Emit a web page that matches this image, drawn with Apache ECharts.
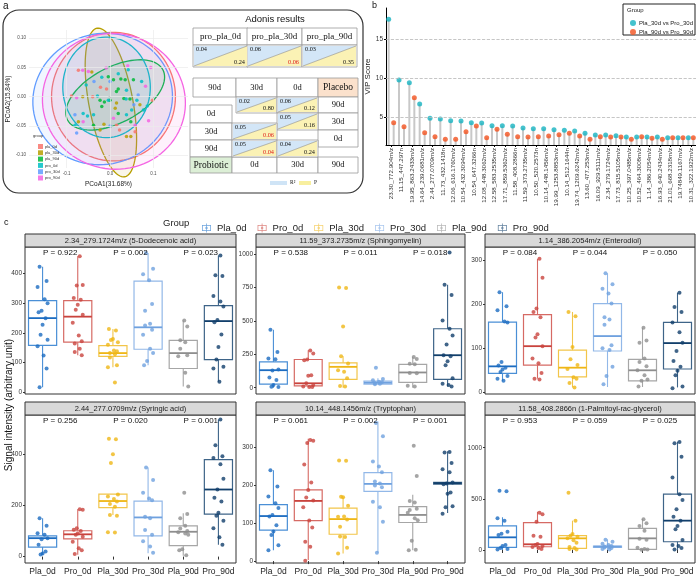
<!DOCTYPE html>
<html>
<head>
<meta charset="utf-8">
<script src="https://cdn.jsdelivr.net/npm/echarts@6/dist/echarts.min.js"></script>
<style>
  html, body { margin: 0; padding: 0; background: #fff; }
  #main { width: 696px; height: 579px; }
</style>
</head>
<body>
<div id="main"></div>
<script>
// ---------- panel a : PCoA ----------
const pcoaGroups = ['pla_0d', 'pla_30d', 'pla_90d', 'pro_0d', 'pro_30d', 'pro_90d'];
const pcoaXTicks = [-0.1, 0, 0.1];
const pcoaYTicks = [-0.1, -0.05, 0, 0.05, 0.1];
const pcoaPla0d = [[-0.022,0.016],[-0.008,0.013],[-0.089,0.001],[0.015,-0.049],[0.022,-0.057],[-0.073,0.045],[-0.040,0.000],[0.098,-0.006],[0.058,-0.060]];
const pcoaPla30d = [[-0.042,0.042],[-0.063,0.000],[0.069,-0.014],[0.012,-0.020],[-0.073,-0.043],[-0.014,-0.047],[-0.023,-0.057],[0.038,-0.068],[0.048,-0.068],[0.015,-0.011]];
const pcoaPla90d = [[0.008,0.029],[0.025,0.030],[0.019,0.013],[0.035,0.029],[0.054,0.029],[-0.023,-0.006],[-0.013,-0.009],[0.000,-0.006],[0.015,0.009],[0.032,-0.003],[0.046,-0.004],[-0.019,-0.017],[0.019,-0.029],[-0.038,-0.049],[0.048,-0.043],[-0.004,0.034]];
const pcoaPro0d = [[0.019,0.039],[0.042,0.046],[-0.019,0.033],[-0.055,0.020],[0.073,0.026],[-0.029,0.001],[0.037,-0.004],[0.062,-0.006],[0.077,-0.023],[0.086,-0.016],[-0.062,-0.029],[-0.052,-0.033],[-0.038,-0.031],[0.038,-0.031],[0.050,-0.023],[-0.081,-0.049],[-0.004,-0.006],[0.038,0.011]];
const pcoaPro30d = [[-0.037,0.026],[0.055,-0.014],[-0.081,-0.031],[0.000,-0.050],[-0.077,-0.062],[0.000,0.026],[0.065,0.003]];
const pcoaPro90d = [[-0.050,0.043],[-0.009,0.049],[0.041,0.053],[0.094,0.050],[0.082,0.018],[0.008,-0.037],[0.089,-0.041],[-0.063,0.045],[-0.077,-0.002],[-0.062,-0.043],[0.058,-0.049]];
// ellipse = center + A*cos(t) + B*sin(t)
const ellipseCenter = [[0.008,0.000],[0.002,-0.010],[0.012,0.003],[-0.008,0.016],[-0.017,-0.004],[0.009,-0.008]];
const ellipseAxisA = [[0.143,0.000],[-0.032,0.127],[0.110,0.043],[0.101,0.000],[0.161,0.010],[0.165,-0.005]];
const ellipseAxisB = [[0.000,0.110],[0.050,0.007],[0.030,-0.042],[0.000,0.086],[-0.007,0.112],[0.003,0.116]];

// adonis tables
const adonisCompare = ['pro_pla_0d', 'pro_pla_30d', 'pro_pla_90d'];
const adonisR2 = [0.04, 0.06, 0.03];
const adonisP = [0.24, 0.06, 0.35];
const placeboCells = [['90d','30d',0.02,0.80], ['90d','0d',0.06,0.12], ['30d','0d',0.05,0.16]];
const probioticCells = [['30d','0d',0.05,0.06], ['90d','0d',0.05,0.04], ['90d','30d',0.04,0.24]];

// ---------- panel b : VIP ----------
const vipLabels = ['23.30_772.904m/z','11.15_447.297n','19.95_863.2433m/z','14.64_239.0681m/z','2.44_277.0709m/z','11.73_432.1418n','12.06_616.1760m/z','10.54_432.3094m/z','10.54_647.3266n','12.08_448.3062m/z','12.58_583.2535m/z','17.71_859.5362m/z','11.58_408.2866n','11.59_373.2735m/z','10.50_520.2573n','10.14_448.1456m/z','19.99_1253.8853m/z','10.14_512.1644n','19.74_1209.6242m/z','13.60_477.253m/z','16.09_929.5111m/z','2.34_279.1724m/z','17.73_815.5105m/z','10.25_397.0485m/z','10.52_464.3008m/z','1.14_386.2054m/z','16.93_640.2434m/z','21.01_668.2318m/z','19.74849.1167m/z','10.31_322.1922m/z'];
const vip30 = [17.56,9.78,9.44,6.71,4.87,4.78,4.56,4.53,4.31,4.27,3.92,3.92,3.88,3.63,3.54,3.54,3.41,3.33,3.24,2.95,2.73,2.73,2.64,2.47,2.47,2.47,2.47,2.39,2.39,2.39];
const vip90 = [4.31,3.80,7.51,3.03,2.51,2.18,2.18,3.15,3.88,2.39,3.46,2.82,2.51,2.47,2.51,2.60,2.77,2.95,2.60,2.18,2.51,2.47,2.47,2.18,2.51,2.30,2.18,2.39,2.39,2.39];
const vipTicks = [5, 10, 15];

// ---------- panel c : boxplots ----------
const groupNames = ['Pla_0d','Pro_0d','Pla_30d','Pro_30d','Pla_90d','Pro_90d'];
const panelTitles = ['2.34_279.1724m/z (5-Dodecenoic acid)','11.59_373.2735m/z (Sphingomyelin)','1.14_386.2054m/z (Enterodiol)','2.44_277.0709m/z (Syringic acid)','10.14_448.1456m/z (Tryptophan)','11.58_408.2866n (1-Palmitoyl-rac-glycerol)'];
const pValues = [['0.922','0.002','0.023'],['0.538','0.011','0.018'],['0.084','0.044','0.050'],['0.256','0.020','0.001'],['0.061','0.002','0.001'],['0.953','0.059','0.025']];
const panelTicks = [[0,100,200,300,400],[0,250,500,750,1000],[0,100,200,300],[0,200,400],[0,100,200,300],[0,500,1000]];
// [min, q1, median, q3, max] per group
const boxDodecenoic = [[17,158,250,309,423],[125,169,255,309,459],[84,121,132,157,213],[91,145,219,375,470],[19,80,132,175,242],[35,110,240,292,461]];
const boxSphingomyelin = [[0,27,131,193,434],[5,13,33,211,280],[0,62,156,186,235],[25,27,37,50,70],[0,40,114,174,230],[10,62,243,441,770]];
const boxEnterodiol = [[25,42,58,159,227],[30,61,104,176,303],[10,34,55,95,182],[11,93,127,201,270],[11,25,49,74,146],[10,52,111,158,226]];
const boxSyringic = [[7,37,72,81,150],[7,69,87,101,185],[162,191,217,244,244],[13,81,153,217,348],[3,43,97,120,169],[46,166,262,379,535]];
const boxTryptophan = [[29,82,119,149,240],[3,107,159,188,323],[20,71,111,140,169],[22,184,204,234,369],[29,102,122,144,175],[127,203,206,208,290]];
const boxPalmitoyl = [[0,26,124,235,320],[7,32,56,267,374],[0,16,114,140,287],[0,26,33,39,104],[0,7,114,212,303],[0,81,287,547,1059]];
const ptsDodecenoic = [[423,375,355,314,300,275,270,250,228,194,177,155,124,80,17],[459,362,360,318,312,295,278,261,234,191,172,164,147,136,125],[213,208,180,176,169,160,141,138,132,128,117,91,84,33],[470,417,398,378,298,275,231,225,211,194,147,132,105,91],[242,222,175,169,147,125,121,66,19],[461,395,392,325,306,289,244,236,195,153,110,86,80,35]];
const ptsSphingomyelin = [[434,267,218,213,137,128,77,57,20,8,5],[278,255,211,205,94,90,33,20,10,5,5],[750,745,458,235,181,131,120,70,13,10],[149,65,55,45,40,35,30,25],[230,215,180,175,110,108,15,10],[1010,770,693,503,441,391,324,243,235,198,168,70,30,20,10]];
const ptsEnterodiol = [[227,195,186,160,158,68,60,55,51,45,36,30,25],[303,260,190,182,170,131,124,104,76,65,43,30,28],[182,172,102,74,61,52,33,30,20,10],[270,245,235,224,201,170,165,153,106,99,95,57,36,17],[146,117,112,76,68,58,49,38,28,25,12],[226,193,182,158,136,112,93,70,57,48,38,12,8]];
const ptsSyringic = [[150,120,91,85,72,68,46,20,12,8],[185,183,111,105,100,90,85,78,58,33,25,10],[460,458,400,366,243,235,225,215,205,195,162,160,95,94],[348,299,249,227,220,156,150,104,85,60,39,15],[249,166,150,120,110,100,95,90,85,29,25,5],[535,435,392,385,361,304,262,230,215,171,160,140,111,76,46]];
const ptsTryptophan = [[240,197,171,153,140,122,118,95,78,69,42,29],[320,318,312,255,208,188,168,160,142,107,89,51,38,1],[266,265,169,170,146,117,118,110,91,64,65,35,20],[365,330,263,250,235,210,205,200,195,157,142,104,22],[305,225,159,155,135,138,128,113,108,54,29,30],[288,287,259,243,235,208,205,203,181,178,142,145,125]];
const ptsPalmitoyl = [[580,575,310,287,179,160,147,49,40,20,10,5],[365,349,277,140,130,59,50,40,30,20,10],[560,287,156,140,130,114,95,70,30,20,10,5],[100,80,60,50,40,35,30,25,20,10,5],[300,261,235,189,110,100,23,10,5,3],[1055,1043,912,710,545,489,398,326,287,235,202,98,49,40,20,5]];

// ---------- layout & style ----------
const pcoaColors = ['#F8766D','#B79F00','#00BA38','#00BFC4','#619CFF','#F564E3'];
const pcoaPoints = [pcoaPla0d, pcoaPla30d, pcoaPla90d, pcoaPro0d, pcoaPro30d, pcoaPro90d];
const groupColors = ['#1c6cc1','#c9433d','#efb615','#6fa1df','#8e8e8e','#123f6b'];
const boxStroke = ['#4a8fd6','#d66a64','#f2c54a','#92b8e8','#a6a6a6','#3e6488'];
const panelBoxes = [boxDodecenoic, boxSphingomyelin, boxEnterodiol, boxSyringic, boxTryptophan, boxPalmitoyl];
const panelPoints = [ptsDodecenoic, ptsSphingomyelin, ptsEnterodiol, ptsSyringic, ptsTryptophan, ptsPalmitoyl];
const panelYMin = [-6, -47, -5, -25, -5, -127];
const panelYMax = [490, 1052, 330, 553, 386, 1320];
const boxGrids = [
  { left: 25, top: 247, width: 211, height: 147 },
  { left: 256, top: 247, width: 209, height: 147 },
  { left: 485, top: 247, width: 210, height: 147 },
  { left: 25, top: 415, width: 211, height: 148 },
  { left: 256, top: 415, width: 209, height: 148 },
  { left: 485, top: 415, width: 210, height: 148 }
];
const JITTER = [-3, 4, -5, 2, 5, -1, -4, 3, 0, -2, 5, -5, 1, 4, -3, 2];
const SANS = 'Liberation Sans, Arial, sans-serif';
const SERIF = 'Liberation Serif, Times New Roman, serif';

const chart = echarts.init(document.getElementById('main'));

const grids = [
  { left: 29, top: 30, width: 159, height: 138, containLabel: false, outerBoundsMode: 'none' },
  { left: 386, top: 8, width: 310, height: 137, containLabel: false, outerBoundsMode: 'none' }
].concat(boxGrids.map(g => Object.assign({
  show: true, borderColor: '#333', borderWidth: 1, backgroundColor: '#fff',
  containLabel: false, outerBoundsMode: 'none'
}, g)));

const xAxes = [
  {
    type: 'value', gridIndex: 0, min: -0.187, max: 0.18,
    name: 'PCoA1(31.68%)', nameLocation: 'middle', nameGap: 13,
    nameTextStyle: { fontSize: 6.5, color: '#222', fontFamily: SANS },
    axisLine: { show: false }, splitLine: { show: false },
    axisTick: { show: true, length: 1.5, customValues: pcoaXTicks, lineStyle: { color: '#555' } },
    axisLabel: { customValues: pcoaXTicks, fontSize: 4.5, color: '#4d4d4d', margin: 3, formatter: v => v.toFixed(1) }
  },
  {
    type: 'category', gridIndex: 1, data: vipLabels,
    axisLine: { lineStyle: { color: '#000', width: 1 } },
    axisTick: { show: true, length: 2, alignWithLabel: true, lineStyle: { color: '#000' } },
    axisLabel: { rotate: 90, interval: 0, fontSize: 6.2, color: '#333', margin: 3, fontFamily: SANS },
    splitLine: { show: false }
  }
];
const yAxes = [
  {
    type: 'value', gridIndex: 0, min: -0.122, max: 0.114,
    name: 'PCoA2(15.84%)', nameLocation: 'middle', nameGap: 17, nameRotate: 90,
    nameTextStyle: { fontSize: 6.5, color: '#222', fontFamily: SANS },
    axisLine: { show: false }, splitLine: { show: false },
    axisTick: { show: true, length: 1.5, customValues: pcoaYTicks, lineStyle: { color: '#555' } },
    axisLabel: { customValues: pcoaYTicks, fontSize: 4.5, color: '#4d4d4d', margin: 3, formatter: v => v.toFixed(2) }
  },
  {
    type: 'value', gridIndex: 1, min: 1.45, max: 19,
    name: 'VIP Score', nameLocation: 'middle', nameGap: 13, nameRotate: 90,
    nameTextStyle: { fontSize: 8, color: '#222', fontFamily: SANS },
    axisLine: { show: true, lineStyle: { color: '#000', width: 1 } },
    axisTick: { show: true, length: 2, customValues: vipTicks, lineStyle: { color: '#000' } },
    axisLabel: { customValues: vipTicks, fontSize: 6.5, color: '#333', margin: 3 },
    splitLine: { show: false }
  }
];

boxGrids.forEach((g, p) => {
  const bottomRow = p >= 3;
  xAxes.push({
    type: 'category', gridIndex: p + 2, data: groupNames,
    axisLine: { show: false },
    axisTick: { show: bottomRow, length: 3, alignWithLabel: true, lineStyle: { color: '#333' } },
    axisLabel: { show: bottomRow, fontSize: 8.5, color: '#222', margin: 4, interval: 0, fontFamily: SANS },
    splitLine: { show: false }
  });
  yAxes.push({
    type: 'value', gridIndex: p + 2, min: panelYMin[p], max: panelYMax[p],
    axisLine: { show: false },
    axisTick: { show: true, length: 2, customValues: panelTicks[p], lineStyle: { color: '#333' } },
    axisLabel: { customValues: panelTicks[p], fontSize: 6.5, color: '#333', margin: 3, formatter: v => String(v) },
    splitLine: { show: false }
  });
});

const series = [];

// PCoA gridlines
series.push({
  type: 'scatter', xAxisIndex: 0, yAxisIndex: 0, data: [], z: 0, silent: true,
  markLine: {
    silent: true, symbol: 'none', label: { show: false }, animation: false,
    lineStyle: { type: 'solid', color: '#ebebeb', width: 0.7 },
    data: pcoaXTicks.map(v => ({ xAxis: v })).concat(pcoaYTicks.map(v => ({ yAxis: v })))
  }
});
// ellipses
series.push({
  type: 'custom', xAxisIndex: 0, yAxisIndex: 0, z: 1, silent: true, clip: false,
  data: pcoaGroups.map((g, k) => [k]),
  renderItem(params, api) {
    const k = api.value(0);
    const c = ellipseCenter[k], a = ellipseAxisA[k], b = ellipseAxisB[k];
    const pts = [];
    for (let t = 0; t < 90; t++) {
      const th = t / 90 * Math.PI * 2;
      pts.push(api.coord([
        c[0] + a[0] * Math.cos(th) + b[0] * Math.sin(th),
        c[1] + a[1] * Math.cos(th) + b[1] * Math.sin(th)
      ]));
    }
    return {
      type: 'polygon', shape: { points: pts },
      style: { fill: echarts.color.modifyAlpha(pcoaColors[k], 0.09), stroke: pcoaColors[k], lineWidth: 1.3 }
    };
  }
});
pcoaGroups.forEach((g, k) => {
  series.push({
    name: g, type: 'scatter', xAxisIndex: 0, yAxisIndex: 0, z: 3,
    symbolSize: 3.5, itemStyle: { color: pcoaColors[k], opacity: 0.85 },
    data: pcoaPoints[k]
  });
});

// VIP stems + points
series.push({
  name: 'stem30', type: 'bar', xAxisIndex: 1, yAxisIndex: 1, data: vip30,
  barWidth: 2, barGap: '150%', itemStyle: { color: '#c8c8c8' }, z: 1,
  markLine: {
    silent: true, symbol: 'none', label: { show: false },
    lineStyle: { type: 'dashed', color: '#b8b8b8', width: 0.8 },
    data: vipTicks.map(v => ({ yAxis: v }))
  }
});
series.push({
  name: 'stem90', type: 'bar', xAxisIndex: 1, yAxisIndex: 1, data: vip90,
  barWidth: 2, barGap: '150%', itemStyle: { color: '#c8c8c8' }, z: 1
});
series.push({
  name: 'Pla_30d vs Pro_30d', type: 'scatter', xAxisIndex: 1, yAxisIndex: 1, data: vip30,
  symbolSize: 5, symbolOffset: [-2.5, 0], itemStyle: { color: '#17b3c1' }, z: 3
});
series.push({
  name: 'Pla_90d vs Pro_90d', type: 'scatter', xAxisIndex: 1, yAxisIndex: 1, data: vip90,
  symbolSize: 5, symbolOffset: [2.5, 0], itemStyle: { color: '#f2531f' }, z: 3
});

// legend carriers for panel c
groupNames.forEach((g, k) => {
  series.push({ name: g, type: 'scatter', xAxisIndex: 2, yAxisIndex: 2, data: [], itemStyle: { color: boxStroke[k] } });
});

// boxplots
panelBoxes.forEach((boxes, p) => {
  series.push({
    type: 'custom', xAxisIndex: p + 2, yAxisIndex: p + 2, z: 2, silent: true,
    encode: { x: 0, y: [1, 2, 3, 4, 5] },
    data: boxes.map((b, i) => [i].concat(b)),
    renderItem(params, api) {
      const i = api.value(0);
      const x = api.coord([i, 0])[0];
      const half = api.size([1, 0])[0] * 0.4;
      const y = [1, 2, 3, 4, 5].map(d => api.coord([i, api.value(d)])[1]);
      const soft = boxStroke[i], col = groupColors[i];
      return {
        type: 'group', children: [
          { type: 'line', shape: { x1: x, y1: y[0], x2: x, y2: y[1] }, style: { stroke: soft, lineWidth: 1.1 } },
          { type: 'line', shape: { x1: x, y1: y[3], x2: x, y2: y[4] }, style: { stroke: soft, lineWidth: 1.1 } },
          { type: 'rect', shape: { x: x - half, y: y[3], width: half * 2, height: Math.max(y[1] - y[3], 1) },
            style: { fill: 'rgba(255,255,255,0)', stroke: soft, lineWidth: 1.2 } },
          { type: 'line', shape: { x1: x - half, y1: y[2], x2: x + half, y2: y[2] }, style: { stroke: col, lineWidth: 1.8 } }
        ]
      };
    }
  });
  const pts = [];
  panelPoints[p].forEach((vals, i) => {
    vals.forEach((v, j) => {
      pts.push({ value: [i, v], symbolOffset: [JITTER[(j + i * 3) % JITTER.length], 0], itemStyle: { color: groupColors[i] } });
    });
  });
  series.push({
    type: 'scatter', xAxisIndex: p + 2, yAxisIndex: p + 2, z: 3, symbolSize: 4, data: pts, clip: false
  });
});

const boxIcon = 'path://M0,2L12,2L12,10L0,10Z M1,3L1,9L11,9L11,3Z M5.5,0L6.5,0L6.5,12L5.5,12Z M4.5,5L7.5,5L7.5,7L4.5,7Z';

chart.setOption({
  animation: false,
  backgroundColor: '#fff',
  textStyle: { fontFamily: SANS },
  grid: grids,
  xAxis: xAxes,
  yAxis: yAxes,
  legend: [
    {
      data: pcoaGroups, orient: 'vertical', left: 33, top: 139, selectedMode: false,
      itemWidth: 5, itemHeight: 5, itemGap: 1.3, icon: 'rect',
      textStyle: { fontSize: 4, color: '#333', padding: [0, 0, 0, -3] }
    },
    {
      data: ['Pla_30d vs Pro_30d', 'Pla_90d vs Pro_90d'], orient: 'vertical', left: 625, top: 15,
      selectedMode: false, itemWidth: 6, itemHeight: 6, itemGap: 3, icon: 'circle', z: 60,
      textStyle: { fontSize: 6, color: '#222', padding: [0, 0, 0, -2] }
    },
    {
      data: groupNames, left: 197, top: 218, selectedMode: false,
      itemWidth: 11, itemHeight: 9, itemGap: 11, icon: boxIcon,
      textStyle: { fontSize: 9.5, color: '#222' }
    }
  ],
  series: series
});

// ---------- graphics: frames, tables, strips, annotations ----------
const gfx = [];
function txt(x, y, s, opt) {
  gfx.push({ type: 'text', x: x, y: y, silent: true, z: 100,
    style: Object.assign({ text: s, fill: '#111', fontSize: 9, fontFamily: SANS, align: 'left', verticalAlign: 'middle' }, opt || {}) });
}
function box(x, y, w, h, fill, stroke) {
  gfx.push({ type: 'rect', silent: true, z: 90, shape: { x: x, y: y, width: w, height: h },
    style: { fill: fill || '#fff', stroke: stroke || '#9a9a9a', lineWidth: 0.8 } });
}
function labelCell(x, y, w, h, s, fill, size) {
  box(x, y, w, h, fill);
  txt(x + w / 2, y + h / 2, s, { align: 'center', fontFamily: SERIF, fontSize: size || 8.5 });
}
function splitCell(x, y, w, h, r2, pv) {
  box(x, y, w, h, '#fff');
  gfx.push({ type: 'polygon', silent: true, z: 91, shape: { points: [[x + 1, y + 1], [x + w - 1, y + 1], [x + 1, y + h - 1]] }, style: { fill: '#d3e6f7' } });
  gfx.push({ type: 'polygon', silent: true, z: 91, shape: { points: [[x + w - 1, y + 1], [x + w - 1, y + h - 1], [x + 1, y + h - 1]] }, style: { fill: '#fbf2b5' } });
  gfx.push({ type: 'line', silent: true, z: 92, shape: { x1: x + 1, y1: y + h - 1, x2: x + w - 1, y2: y + 1 }, style: { stroke: '#8a8a8a', lineWidth: 0.6 } });
  txt(x + 3, y + 4.5, r2.toFixed(2), { fontFamily: SERIF, fontSize: 6.3 });
  txt(x + w - 3, y + h - 4.5, pv.toFixed(2), { fontFamily: SERIF, fontSize: 6.3, align: 'right', fill: pv < 0.1 ? '#e0201b' : '#111' });
}

// panel letters
txt(3, 6, 'a', { fontSize: 10 });
txt(372, 6, 'b', { fontSize: 9 });
txt(4, 223, 'c', { fontSize: 9 });

// rounded frame of panel a
gfx.push({ type: 'rect', silent: true, z: 80, shape: { x: 3, y: 10, width: 360, height: 183, r: 16 },
  style: { fill: 'none', stroke: '#333', lineWidth: 1.2 } });

// adonis table
txt(275, 19.5, 'Adonis results', { align: 'center', fontSize: 9.5 });
const topCols = [193, 247, 302];
adonisCompare.forEach((s, k) => {
  labelCell(topCols[k], 28, 55, 17, s, '#fff', 9);
  splitCell(topCols[k], 45, 55, 22, adonisR2[k], adonisP[k]);
});
const plaCol = { '90d': 193, '30d': 236, '0d': 277 };
const plaRow = { '90d': 97, '30d': 113, '0d': 130 };
labelCell(193, 78, 43, 19, '90d');
labelCell(236, 78, 41, 19, '30d');
labelCell(277, 78, 41, 19, '0d');
labelCell(318, 78, 40, 19, 'Placebo', '#fbe1cc', 9.5);
labelCell(318, 97, 40, 16, '90d');
labelCell(318, 113, 40, 17, '30d');
labelCell(318, 130, 40, 17, '0d');
placeboCells.forEach(c => splitCell(plaCol[c[1]], plaRow[c[0]], 41, c[0] === '30d' ? 17 : 16, c[2], c[3]));
const proCol = { '0d': 232, '30d': 277, '90d': 318 };
const proRow = { '0d': 105, '30d': 123, '90d': 140 };
labelCell(190, 105, 42, 18, '0d');
labelCell(190, 123, 42, 17, '30d');
labelCell(190, 140, 42, 17, '90d');
labelCell(190, 157, 42, 16, 'Probiotic', '#dcefd6', 9.5);
labelCell(232, 157, 45, 16, '0d');
labelCell(277, 157, 41, 16, '30d');
labelCell(318, 157, 40, 16, '90d');
probioticCells.forEach(c => splitCell(proCol[c[1]], proRow[c[0]], c[1] === '0d' ? 45 : 41, 17, c[2], c[3]));
gfx.push({ type: 'rect', silent: true, z: 90, shape: { x: 270, y: 181, width: 17, height: 4 }, style: { fill: '#cfe4f6' } });
txt(290, 183, 'R²', { fontSize: 5.5, fontFamily: SERIF });
gfx.push({ type: 'rect', silent: true, z: 90, shape: { x: 299, y: 181, width: 12, height: 4 }, style: { fill: '#f8ef9f' } });
txt(314, 183, 'P', { fontSize: 5.5, fontFamily: SERIF });

// PCoA legend title
txt(33, 136, 'group', { fontSize: 4, fill: '#333' });

// VIP legend frame
gfx.push({ type: 'rect', silent: true, z: 1, shape: { x: 623, y: 4, width: 72, height: 31 }, style: { fill: 'none', stroke: '#222', lineWidth: 1 } });
txt(627, 10.5, 'Group', { fontSize: 6, fill: '#222' });

// panel c legend title, y name
txt(163, 223, 'Group', { fontSize: 9.5, fill: '#222' });
gfx.push({ type: 'text', silent: true, z: 100, x: 9, y: 405, rotation: Math.PI / 2,
  style: { text: 'Signal intensity (arbitrary unit)', fontSize: 10, fill: '#111', fontFamily: SANS, align: 'center', verticalAlign: 'middle' } });

// strips and P labels
boxGrids.forEach((g, p) => {
  gfx.push({ type: 'rect', silent: true, z: 90, shape: { x: g.left, y: g.top - 13, width: g.width, height: 13 },
    style: { fill: '#d9d9d9', stroke: '#333', lineWidth: 1 } });
  txt(g.left + g.width / 2, g.top - 6.5, panelTitles[p], { align: 'center', fontSize: 7.5, fill: '#1a1a1a' });
  pValues[p].forEach((pv, k) => {
    const x0 = chart.convertToPixel({ xAxisIndex: p + 2 }, 2 * k);
    const x1 = chart.convertToPixel({ xAxisIndex: p + 2 }, 2 * k + 1);
    txt((x0 + x1) / 2, g.top + 6, 'P = ' + pv, { align: 'center', fontSize: 8, fill: '#111' });
  });
});

chart.setOption({ graphic: gfx });
</script>
</body>
</html>
